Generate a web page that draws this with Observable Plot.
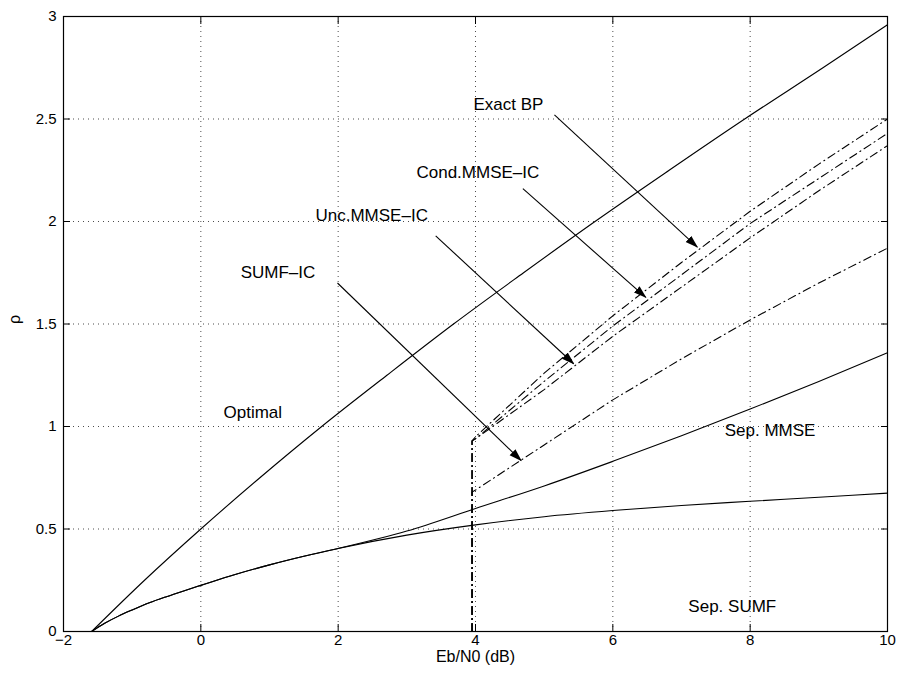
<!DOCTYPE html>
<html>
<head>
<meta charset="utf-8">
<script src="https://cdn.jsdelivr.net/npm/d3@7"></script>
<script src="https://cdn.jsdelivr.net/npm/@observablehq/plot@0.6"></script>
<style>
  html, body { margin: 0; padding: 0; background: #fff; }
  #chart svg { display: block; }
</style>
</head>
<body>
<div id="chart"></div>
<script>
// ---- Data ----
const xTicks = [-2, 0, 2, 4, 6, 8, 10];
const yTicks = [0, 0.5, 1, 1.5, 2, 2.5, 3];

// Optimal (solid)
const optimalX = [-1.59, -0.82, 0, 0.86, 1.76, 2.71, 3.68, 4.70, 5.74, 6.82, 7.92, 9.06, 10];
const optimalY = [0, 0.25, 0.5, 0.75, 1, 1.25, 1.5, 1.75, 2, 2.25, 2.5, 2.75, 2.96];

// Separate SUMF / MMSE (solid)
const sepX = [-1.59, -1.4, -1.2, -1, -0.75, -0.5, -0.25, 0, 0.5, 1, 1.5, 2, 3, 4, 5, 6, 7, 8, 9, 10];
const sepSUMF = [0, 0.04, 0.075, 0.105, 0.14, 0.17, 0.198, 0.225, 0.278, 0.325, 0.367, 0.405, 0.47, 0.52, 0.56, 0.59, 0.615, 0.635, 0.655, 0.675];
const sepMMSE = [0, 0.04, 0.075, 0.105, 0.14, 0.17, 0.198, 0.225, 0.278, 0.325, 0.367, 0.405, 0.49, 0.60, 0.71, 0.83, 0.955, 1.085, 1.22, 1.36];

// Iterative receivers (dash-dot), with the vertical drop at threshold
const icX = [3.95, 3.95, 4, 5, 6, 7, 8, 9, 10];
const exactBP = [0, 0.93, 0.95, 1.26, 1.54, 1.80, 2.05, 2.28, 2.50];
const condMMSEIC = [0, 0.93, 0.94, 1.22, 1.49, 1.74, 1.99, 2.21, 2.43];
const uncMMSEIC = [0, 0.93, 0.94, 1.18, 1.44, 1.68, 1.92, 2.15, 2.37];
const sumfIC = [0, 0.68, 0.69, 0.91, 1.13, 1.33, 1.52, 1.70, 1.87];

// Annotations
const arrowLabels = ["Exact BP", "Cond.MMSE\u2013IC", "Unc.MMSE\u2013IC", "SUMF\u2013IC"];
const labelX = [3.97, 3.14, 1.67, 0.58];
const labelY = [2.57, 2.24, 2.03, 1.75];
const arrowX1 = [5.15, 4.69, 3.42, 1.99];
const arrowY1 = [2.52, 2.16, 1.93, 1.70];
const arrowX2 = [7.23, 6.48, 5.43, 4.665];
const arrowY2 = [1.875, 1.63, 1.306, 0.834];

const curveLabels = ["Optimal", "Sep. MMSE", "Sep. SUMF"];
const curveLabelX = [0.33, 7.63, 7.1];
const curveLabelY = [1.07, 0.98, 0.12];

// ---- Build tables ----
const toRows = (xs, ys) => xs.map((x, i) => ({x, y: ys[i]}));
const solidSeries = [
  toRows(optimalX, optimalY),
  toRows(sepX, sepSUMF),
  toRows(sepX, sepMMSE)
];
const dashSeries = [
  toRows(icX, exactBP),
  toRows(icX, condMMSEIC),
  toRows(icX, uncMMSEIC),
  toRows(icX, sumfIC)
];
const arrows = arrowLabels.map((t, i) => ({
  t, lx: labelX[i], ly: labelY[i],
  x1: arrowX1[i], y1: arrowY1[i], x2: arrowX2[i], y2: arrowY2[i]
}));
const curveText = curveLabels.map((t, i) => ({t, x: curveLabelX[i], y: curveLabelY[i]}));

const fmt = d => d < 0 ? "\u2212" + (-d) : String(d);

function filledArrow(color, context) {
  const m = d3.create("svg:marker")
    .attr("viewBox", "-12 -5 13 10")
    .attr("markerWidth", 13)
    .attr("markerHeight", 10)
    .attr("markerUnits", "userSpaceOnUse")
    .attr("refX", 0)
    .attr("refY", 0)
    .attr("orient", "auto")
    .attr("fill", "#000")
    .attr("stroke", "none");
  m.append("path").attr("d", "M-12,-4.2L1,0L-12,4.2Z");
  return m.node();
}

function build(markerEnd) {
  return Plot.plot({
    width: 898,
    height: 680,
    marginLeft: 63,
    marginRight: 11,
    marginTop: 16,
    marginBottom: 49,
    style: {fontFamily: "'Liberation Sans', Arial, Helvetica, sans-serif", fontSize: "15px", background: "#fff", color: "#000"},
    x: {domain: [-2, 10], label: null},
    y: {domain: [0, 3], label: null},
    marks: [
      Plot.gridX(xTicks, {stroke: "#000", strokeOpacity: 0.7, strokeDasharray: "1,4"}),
      Plot.gridY(yTicks, {stroke: "#000", strokeOpacity: 0.7, strokeDasharray: "1,4"}),
      // inward tick marks on all four sides
      Plot.axisX(xTicks, {anchor: "bottom", tickSize: -7, tickFormat: () => "", label: null}),
      Plot.axisX(xTicks, {anchor: "top", tickSize: -7, tickFormat: () => "", label: null}),
      Plot.axisY(yTicks, {anchor: "left", tickSize: -7, tickFormat: () => "", label: null}),
      Plot.axisY(yTicks, {anchor: "right", tickSize: -7, tickFormat: () => "", label: null}),
      // tick labels
      Plot.axisX(xTicks, {anchor: "bottom", tickSize: 0, tickPadding: 3, tickFormat: fmt, label: null, fontSize: 15}),
      Plot.axisY(yTicks, {anchor: "left", tickSize: 0, tickPadding: 7, tickFormat: fmt, label: null, fontSize: 15}),
      // curves
      ...solidSeries.map(s => Plot.line(s, {x: "x", y: "y", stroke: "#000", strokeWidth: 1.1, curve: "monotone-x"})),
      ...dashSeries.map(s => Plot.line(s, {x: "x", y: "y", stroke: "#000", strokeWidth: 1.1, strokeDasharray: "8,4,1,4"})),
      // arrows
      Plot.link(arrows, {x1: "x1", y1: "y1", x2: "x2", y2: "y2", stroke: "#000", strokeWidth: 1.1, markerEnd}),
      Plot.text(arrows, {x: "lx", y: "ly", text: "t", textAnchor: "start", fontSize: 17, fill: "#000"}),
      Plot.text(curveText, {x: "x", y: "y", text: "t", textAnchor: "start", fontSize: 17, fill: "#000"}),
      // axis titles
      Plot.text(["Eb/N0 (dB)"], {frameAnchor: "bottom", dy: 30, fontSize: 16, fill: "#000"}),
      Plot.text(["\u03c1"], {frameAnchor: "left", dx: -49, rotate: -90, fontSize: 16, fill: "#000"}),
      Plot.frame({stroke: "#000", strokeWidth: 1.2})
    ]
  });
}

let chart;
try {
  chart = build(filledArrow);
} catch (e) {
  chart = build("arrow");
}
document.getElementById("chart").appendChild(chart);
</script>
</body>
</html>
